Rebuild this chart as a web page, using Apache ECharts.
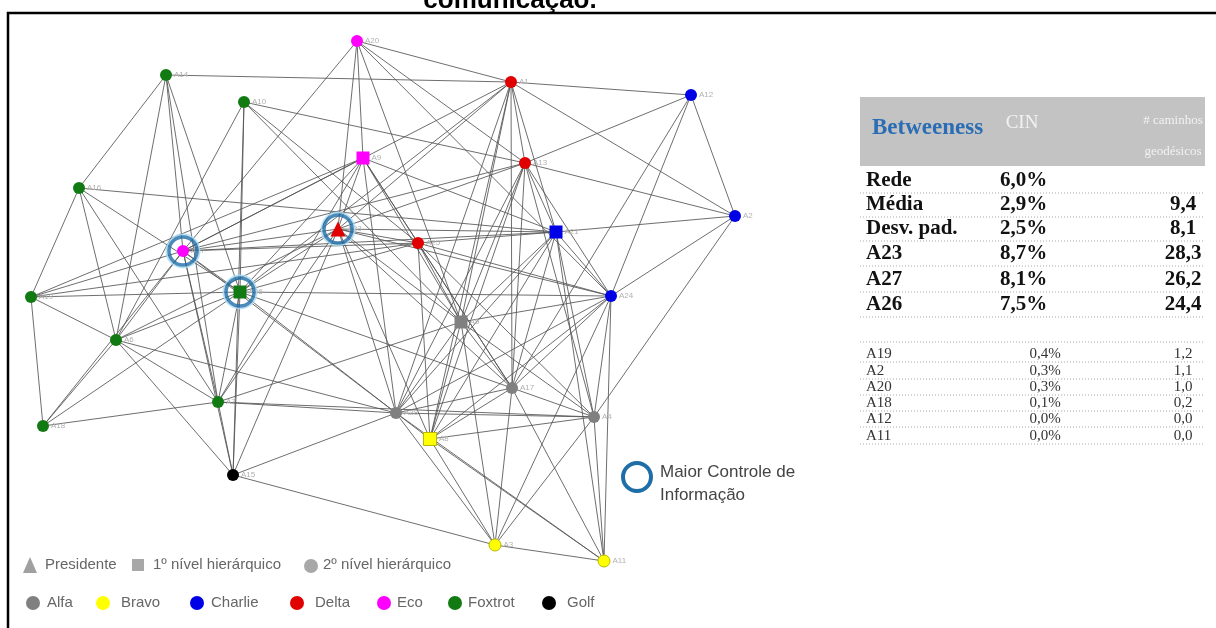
<!DOCTYPE html>
<html><head><meta charset="utf-8">
<script src="https://cdn.jsdelivr.net/npm/echarts@6/dist/echarts.min.js"></script>
<style>html,body{margin:0;padding:0;background:#fff}#c{width:1216px;height:628px}</style>
</head><body><div id="c"></div>
<script>
// ---- node data ----
const nodeNames = ['A20','A14','A10','A1','A12','A9','A13','A16','A2','A27','A23','A25','A21','A19','A26','A24','A5','A6','A17','A7','A28','A4','A8','A18','A15','A3','A11'];
const nodeX     = [357,166,244,511,691,363,525,79,735,183,338,418,556,31,240,611,461,116,512,218,396,594,430,43,233,495,604];
const nodeY     = [41,75,102,82,95,158,163,188,216,251,229,243,232,297,292,296,322,340,388,402,413,417,439,426,475,545,561];
const nodeGroup = ['Eco','Foxtrot','Foxtrot','Delta','Charlie','Eco','Delta','Foxtrot','Charlie','Eco','Delta','Delta','Charlie','Foxtrot','Foxtrot','Charlie','Alfa','Foxtrot','Alfa','Foxtrot','Alfa','Alfa','Bravo','Foxtrot','Golf','Bravo','Bravo'];
const nodeLevel = [2,2,2,2,2,1,2,2,2,2,0,2,1,2,1,2,1,2,2,2,2,2,1,2,2,2,2];
const keyNodes  = ['A23','A27','A26'];
const edges = [
 ['A20','A1'],['A20','A13'],['A20','A9'],['A20','A23'],['A20','A27'],['A20','A5'],['A20','A24'],
 ['A14','A1'],['A14','A16'],['A14','A6'],['A14','A26'],['A14','A7'],['A14','A27'],
 ['A10','A26'],['A10','A15'],['A10','A13'],['A10','A25'],['A10','A5'],['A10','A6'],
 ['A1','A12'],['A1','A2'],['A1','A27'],['A1','A26'],['A1','A23'],['A1','A21'],['A1','A17'],['A1','A5'],['A1','A28'],['A1','A8'],['A1','A13'],
 ['A12','A13'],['A12','A2'],['A12','A24'],['A12','A17'],
 ['A9','A27'],['A9','A26'],['A9','A23'],['A9','A25'],['A9','A21'],['A9','A5'],['A9','A17'],['A9','A28'],['A9','A19'],['A9','A7'],
 ['A13','A2'],['A13','A21'],['A13','A24'],['A13','A5'],['A13','A28'],['A13','A8'],['A13','A17'],['A13','A4'],['A13','A27'],['A13','A23'],
 ['A16','A19'],['A16','A6'],['A16','A7'],['A16','A26'],['A16','A21'],
 ['A2','A21'],['A2','A24'],['A2','A4'],
 ['A27','A19'],['A27','A6'],['A27','A18'],['A27','A7'],['A27','A26'],['A27','A23'],['A27','A25'],['A27','A21'],['A27','A15'],['A27','A28'],
 ['A23','A26'],['A23','A25'],['A23','A21'],['A23','A5'],['A23','A24'],['A23','A15'],['A23','A7'],['A23','A28'],['A23','A8'],['A23','A17'],['A23','A6'],
 ['A25','A21'],['A25','A24'],['A25','A5'],['A25','A4'],['A25','A17'],['A25','A8'],['A25','A19'],['A25','A26'],
 ['A21','A24'],['A21','A5'],['A21','A17'],['A21','A28'],['A21','A8'],['A21','A4'],['A21','A11'],
 ['A19','A18'],['A19','A6'],['A19','A26'],
 ['A26','A6'],['A26','A18'],['A26','A7'],['A26','A15'],['A26','A28'],['A26','A17'],['A26','A24'],
 ['A24','A5'],['A24','A17'],['A24','A28'],['A24','A8'],['A24','A4'],['A24','A11'],['A24','A3'],
 ['A5','A17'],['A5','A28'],['A5','A8'],['A5','A4'],['A5','A3'],['A5','A7'],
 ['A6','A18'],['A6','A7'],['A6','A28'],['A6','A15'],
 ['A17','A28'],['A17','A4'],['A17','A8'],['A17','A3'],['A17','A11'],
 ['A7','A18'],['A7','A28'],['A7','A4'],['A7','A15'],
 ['A28','A8'],['A28','A4'],['A28','A3'],['A28','A11'],
 ['A4','A8'],['A4','A11'],['A4','A3'],
 ['A8','A3'],['A8','A11'],
 ['A15','A3'],['A15','A28'],['A3','A11']
];
// ---- legend data ----
const groupNames  = ['Alfa','Bravo','Charlie','Delta','Eco','Foxtrot','Golf'];
const groupColors = ['#808080','#ffff00','#0000e6','#e00000','#ff00ff','#127a12','#000000'];
const levelNames  = ['Presidente','1º nível hierárquico','2º nível hierárquico'];
const levelSymbols= ['triangle','rect','circle'];
// ---- table data ----
const tableTitle   = 'Betweeness';
const tableHeaders = ['CIN','# caminhos','geodésicos'];
const boldLabels   = ['Rede','Média','Desv. pad.','A23','A27','A26'];
const boldCIN      = ['6,0%','2,9%','2,5%','8,7%','8,1%','7,5%'];
const boldPaths    = ['','9,4','8,1','28,3','26,2','24,4'];
const lowLabels    = ['A19','A2','A20','A18','A12','A11'];
const lowCIN       = ['0,4%','0,3%','0,3%','0,1%','0,0%','0,0%'];
const lowPaths     = ['1,2','1,1','1,0','0,2','0,0','0,0'];
const titleText    = 'comunicação.';
const keyLegendText= ['Maior Controle de','Informação'];

const chart = echarts.init(document.getElementById('c'));
const colorOf = g => groupColors[groupNames.indexOf(g)];

const nodes = nodeNames.map((n,i)=>({
  name:n, value:[nodeX[i],nodeY[i]],
  symbol: levelSymbols[nodeLevel[i]],
  symbolSize: nodeLevel[i]===0?15:(nodeLevel[i]===1?13:12),
  itemStyle:{color:colorOf(nodeGroup[i]), borderColor: nodeGroup[i]==='Bravo'?'#b8b800':'transparent', borderWidth: nodeGroup[i]==='Bravo'?1:0}
}));
const links = edges.map(e=>({source:e[0],target:e[1]}));
const ringData = keyNodes.map(k=>{const i=nodeNames.indexOf(k);return [nodeX[i],nodeY[i]];});

const G = [];
// frame
G.push({type:'rect',shape:{x:8,y:13,width:1230,height:640},style:{fill:'none',stroke:'#000',lineWidth:2.5},z:10});
G.push({type:'text',style:{text:titleText,x:510,y:1,align:'center',verticalAlign:'middle',font:'bold 26px "Liberation Sans", Arial',fill:'#000'},z:11});
// legend row 1 (levels)
const lvTX=[45,153,323];
levelNames.forEach((t,i)=>{
  if(i===0) G.push({type:'polygon',shape:{points:[[23,573],[37,573],[30,557]]},style:{fill:'#a0a0a0'}});
  if(i===1) G.push({type:'rect',shape:{x:132,y:559,width:12,height:12},style:{fill:'#a8a8a8'}});
  if(i===2) G.push({type:'circle',shape:{cx:311,cy:566,r:7},style:{fill:'#a8a8a8'}});
  G.push({type:'text',style:{text:t,x:lvTX[i],y:565,verticalAlign:'middle',font:'15px "Liberation Sans", Arial',fill:'#666'}});
});
// legend row 2 (groups)
const gCX=[33,103,197,297,384,455,549], gTX=[47,121,211,315,397,468,567];
groupNames.forEach((g,i)=>{
  G.push({type:'circle',shape:{cx:gCX[i],cy:603,r:7},style:{fill:groupColors[i]}});
  G.push({type:'text',style:{text:g,x:gTX[i],y:603,verticalAlign:'middle',font:'15px "Liberation Sans", Arial',fill:'#666'}});
});
// key legend
G.push({type:'circle',shape:{cx:637,cy:477,r:14},style:{fill:'none',stroke:'#1f6ea8',lineWidth:4}});
G.push({type:'text',style:{text:keyLegendText[0],x:660,y:472,verticalAlign:'middle',font:'17px "Liberation Sans", Arial',fill:'#444'}});
G.push({type:'text',style:{text:keyLegendText[1],x:660,y:495,verticalAlign:'middle',font:'17px "Liberation Sans", Arial',fill:'#444'}});
// table
G.push({type:'rect',shape:{x:860,y:97,width:345,height:69},style:{fill:'#c3c3c3'}});
G.push({type:'text',style:{text:tableTitle,x:872,y:128,verticalAlign:'middle',font:'bold 23px "Liberation Serif", serif',fill:'#2a6db4'}});
G.push({type:'text',style:{text:tableHeaders[0],x:1022,y:123,align:'center',verticalAlign:'middle',font:'19px "Liberation Serif", serif',fill:'#f2f2f2'}});
G.push({type:'text',style:{text:tableHeaders[1],x:1173,y:121,align:'center',verticalAlign:'middle',font:'13px "Liberation Serif", serif',fill:'#f2f2f2'}});
G.push({type:'text',style:{text:tableHeaders[2],x:1173,y:152,align:'center',verticalAlign:'middle',font:'13px "Liberation Serif", serif',fill:'#f2f2f2'}});
const dot = y => G.push({type:'line',shape:{x1:860,y1:y,x2:1205,y2:y},style:{stroke:'#aaa',lineWidth:1,lineDash:[1,2]}});
const bY=[181,205,229,254,280,305];
boldLabels.forEach((t,i)=>{
  const f='bold 21px "Liberation Serif", serif';
  G.push({type:'text',style:{text:t,x:866,y:bY[i],verticalAlign:'middle',font:f,fill:'#111'}});
  G.push({type:'text',style:{text:boldCIN[i],x:1000,y:bY[i],verticalAlign:'middle',font:f,fill:'#111'}});
  G.push({type:'text',style:{text:boldPaths[i],x:1183,y:bY[i],align:'center',verticalAlign:'middle',font:f,fill:'#111'}});
  dot(bY[i]+12);
});
dot(342);
const lY=[354,371,387,403,419,436];
lowLabels.forEach((t,i)=>{
  const f='15px "Liberation Serif", serif';
  G.push({type:'text',style:{text:t,x:866,y:lY[i],verticalAlign:'middle',font:f,fill:'#333'}});
  G.push({type:'text',style:{text:lowCIN[i],x:1045,y:lY[i],align:'center',verticalAlign:'middle',font:f,fill:'#333'}});
  G.push({type:'text',style:{text:lowPaths[i],x:1183,y:lY[i],align:'center',verticalAlign:'middle',font:f,fill:'#333'}});
  dot(lY[i]+8);
});

chart.setOption({
  animation:false,
  grid:{left:0,right:0,top:0,bottom:0},
  xAxis:{type:'value',min:0,max:1216,show:false},
  yAxis:{type:'value',min:0,max:628,inverse:true,show:false},
  series:[
    {type:'graph',coordinateSystem:'cartesian2d',z:2,
     data:nodes,links:links,
     label:{show:true,position:'right',distance:2,fontSize:8,color:'#b0b0b0',formatter:'{b}'},
     lineStyle:{color:'#555555',width:1,opacity:0.85},
     emphasis:{disabled:true}},
    {type:'scatter',z:3,data:ringData,symbol:'circle',symbolSize:33,silent:true,
     itemStyle:{color:'rgba(0,0,0,0)',borderColor:'#a8dcf2',borderWidth:2}},
    {type:'scatter',z:4,data:ringData,symbol:'circle',symbolSize:28,silent:true,
     itemStyle:{color:'rgba(0,0,0,0)',borderColor:'#1f6ea8',borderWidth:3.5}}
  ],
  graphic:G
});
</script></body></html>
